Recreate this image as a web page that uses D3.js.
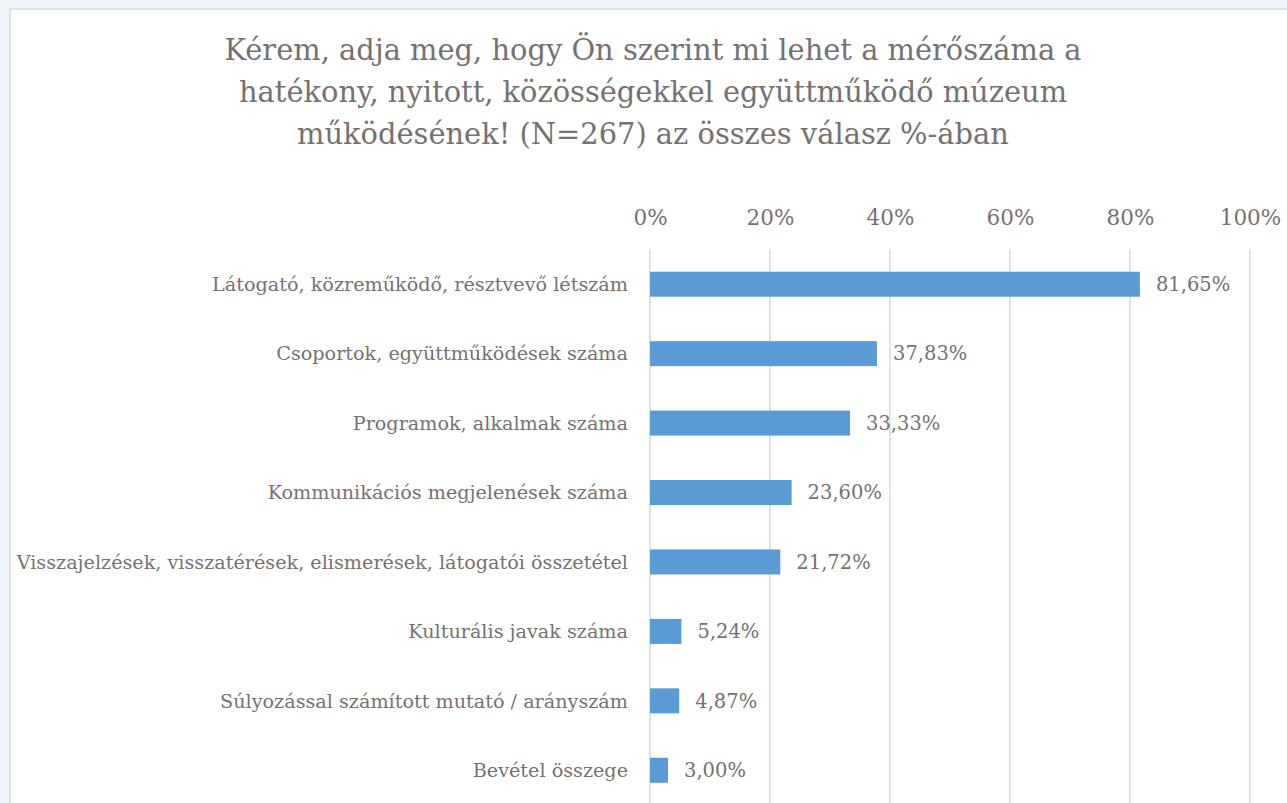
<!DOCTYPE html>
<html>
<head>
<meta charset="utf-8">
<script src="https://cdn.jsdelivr.net/npm/d3@7"></script>
<style>
  html, body { margin: 0; padding: 0; background: #eef4fa; overflow: hidden; }
  svg { display: block; }
</style>
</head>
<body>
<svg id="chart" width="1287" height="803"></svg>
<script>
const titleLines = [
  "Kérem, adja meg, hogy Ön szerint mi lehet a mérőszáma a",
  "hatékony, nyitott, közösségekkel együttműködő múzeum",
  "működésének! (N=267) az összes válasz %-ában"
];
const categories = [
  "Látogató, közreműködő, résztvevő létszám",
  "Csoportok, együttműködések száma",
  "Programok, alkalmak száma",
  "Kommunikációs megjelenések száma",
  "Visszajelzések, visszatérések, elismerések, látogatói összetétel",
  "Kulturális javak száma",
  "Súlyozással számított mutató / arányszám",
  "Bevétel összege"
];
const values = [81.65, 37.83, 33.33, 23.60, 21.72, 5.24, 4.87, 3.00];
const tickValues = [0, 20, 40, 60, 80, 100];

const FONT = "'DejaVu Serif', serif";
const TEXT = "#767171";
const svg = d3.select("#chart");

// card
svg.append("rect").attr("x", 10).attr("y", 9).attr("width", 1300).attr("height", 820)
  .attr("fill", "#ffffff").attr("stroke", "#dde2e8").attr("stroke-width", 2);

// title
svg.append("g").selectAll("text").data(titleLines).join("text")
  .attr("x", 653).attr("y", (d, i) => 60 + i * 42)
  .attr("text-anchor", "middle")
  .attr("font-family", FONT).attr("font-size", 28.9).attr("fill", TEXT)
  .text(d => d);

const x = d3.scaleLinear().domain([0, 100]).range([650, 1250]);
const y = d3.scaleBand().domain(categories).range([249.5, 805]).paddingInner(0.64).paddingOuter(0.32);

// gridlines
svg.append("g").selectAll("line").data(tickValues).join("line")
  .attr("x1", d => x(d)).attr("x2", d => x(d))
  .attr("y1", 249.5).attr("y2", 805)
  .attr("stroke", "#d9d9d9").attr("stroke-width", 1.5);

// top axis
const axis = d3.axisTop(x).tickValues(tickValues).tickFormat(d => d + "%").tickSize(0).tickPadding(0);
const ga = svg.append("g").attr("transform", "translate(0,225)").call(axis);
ga.select(".domain").remove();
ga.selectAll("text").attr("font-family", FONT).attr("font-size", 21.5).attr("fill", TEXT);

// bars
svg.append("g").selectAll("rect").data(values).join("rect")
  .attr("x", x(0)).attr("y", (d, i) => y(categories[i]))
  .attr("width", d => x(d) - x(0)).attr("height", y.bandwidth())
  .attr("fill", "#5b9bd5");

// category labels
svg.append("g").selectAll("text").data(categories).join("text")
  .attr("x", 628).attr("y", d => y(d) + y.bandwidth() / 2)
  .attr("dy", "0.35em").attr("text-anchor", "end")
  .attr("font-family", FONT).attr("font-size", 19.2).attr("fill", TEXT)
  .text(d => d);

// value labels
const fmt = v => v.toFixed(2).replace(".", ",") + "%";
svg.append("g").selectAll("text").data(values).join("text")
  .attr("x", d => x(d) + 16).attr("y", (d, i) => y(categories[i]) + y.bandwidth() / 2)
  .attr("dy", "0.35em")
  .attr("font-family", FONT).attr("font-size", 19.5).attr("fill", TEXT)
  .text(fmt);
</script>
</body>
</html>
